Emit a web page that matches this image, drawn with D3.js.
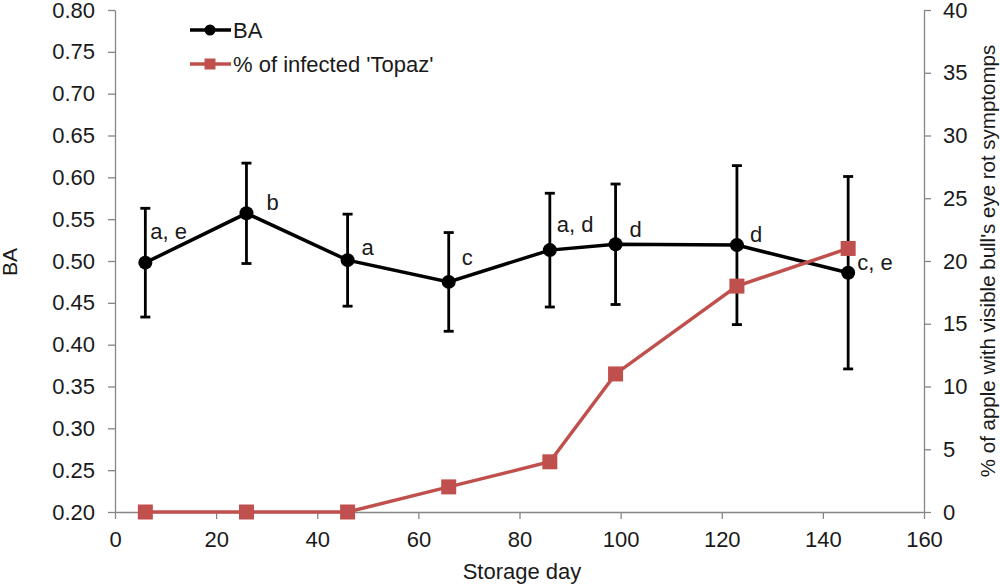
<!DOCTYPE html>
<html>
<head>
<meta charset="utf-8">
<script src="https://cdn.jsdelivr.net/npm/d3@7"></script>
<style>
  body { margin: 0; background: #fff; }
  svg text { font-family: "Liberation Sans", Arial, sans-serif; fill: #1a1a1a; }
</style>
</head>
<body>
<script>

// storage days (x)
var days = [6, 26, 46, 66, 86, 99, 123, 145];
// BA mean and error (left axis)
var ba = [0.498, 0.557, 0.501, 0.475, 0.513, 0.520, 0.519, 0.486];
var baErr = [0.065, 0.060, 0.055, 0.059, 0.068, 0.072, 0.095, 0.115];
var baLetters = ["a, e", "b", "a", "c", "a, d", "d", "d", "c, e"];
// % infected 'Topaz' (right axis)
var infected = [0, 0, 0, 2, 4, 11, 18, 21];

var xTicks = [0, 20, 40, 60, 80, 100, 120, 140, 160];
var baTicks = [0.20, 0.25, 0.30, 0.35, 0.40, 0.45, 0.50, 0.55, 0.60, 0.65, 0.70, 0.75, 0.80];
var pctTicks = [0, 5, 10, 15, 20, 25, 30, 35, 40];

// where each letter label sits relative to its point (Excel placed them by hand)
var letterOffsets = [[5, -24], [20, -3], [14, -5], [13, -17], [7, -18], [14, -7], [13, -3], [9, -3]];

var w = 1000, h = 584;
var plotL = 115, plotR = 924, plotT = 10, plotB = 512;
var red = "#C0504D", axisGrey = "#868686";

var svg = d3.select("body").append("svg")
  .attr("width", w)
  .attr("height", h);

var x = d3.scaleLinear().domain([0, 160]).range([plotL, plotR]);
var yL = d3.scaleLinear().domain([0.2, 0.8]).range([plotB, plotT]);
var yR = d3.scaleLinear().domain([0, 40]).range([plotB, plotT]);

// axes
function styleAxis(g) {
  g.selectAll("path, line").attr("stroke", axisGrey).attr("stroke-width", 1.3);
  g.selectAll("text").style("font-size", "22px").attr("fill", "#1a1a1a");
}

svg.append("g")
  .attr("transform", "translate(0," + plotB + ")")
  .call(d3.axisBottom(x).tickValues(xTicks).tickSize(7).tickPadding(12).tickSizeOuter(0).tickFormat(d3.format("d")))
  .call(styleAxis);

svg.append("g")
  .attr("transform", "translate(" + plotL + ",0)")
  .call(d3.axisLeft(yL).tickValues(baTicks).tickSize(7).tickPadding(13).tickSizeOuter(0).tickFormat(d3.format(".2f")))
  .call(styleAxis);

svg.append("g")
  .attr("transform", "translate(" + plotR + ",0)")
  .call(d3.axisRight(yR).tickValues(pctTicks).tickSize(7).tickPadding(12).tickSizeOuter(0).tickFormat(d3.format("d")))
  .call(styleAxis);

// axis titles
svg.append("text")
  .attr("x", 522)
  .attr("y", 579)
  .attr("text-anchor", "middle")
  .style("font-size", "22px")
  .text("Storage day");

svg.append("text")
  .attr("transform", "translate(17,262) rotate(-90)")
  .attr("text-anchor", "middle")
  .style("font-size", "21px")
  .text("BA");

svg.append("text")
  .attr("transform", "translate(995,261) rotate(-90)")
  .attr("text-anchor", "middle")
  .style("font-size", "20.5px")
  .text("% of apple with visible bull's eye rot symptomps");

// BA series
var idx = d3.range(days.length);

var bars = svg.append("g").attr("stroke", "#000").attr("stroke-width", 2.8);
bars.selectAll(".stem").data(idx).enter().append("line")
  .attr("x1", function(i) { return x(days[i]); })
  .attr("x2", function(i) { return x(days[i]); })
  .attr("y1", function(i) { return yL(ba[i] + baErr[i]); })
  .attr("y2", function(i) { return yL(ba[i] - baErr[i]); });
bars.selectAll(".capT").data(idx).enter().append("line")
  .attr("x1", function(i) { return x(days[i]) - 5; })
  .attr("x2", function(i) { return x(days[i]) + 5; })
  .attr("y1", function(i) { return yL(ba[i] + baErr[i]); })
  .attr("y2", function(i) { return yL(ba[i] + baErr[i]); });
bars.selectAll(".capB").data(idx).enter().append("line")
  .attr("x1", function(i) { return x(days[i]) - 5; })
  .attr("x2", function(i) { return x(days[i]) + 5; })
  .attr("y1", function(i) { return yL(ba[i] - baErr[i]); })
  .attr("y2", function(i) { return yL(ba[i] - baErr[i]); });

var baLine = d3.line()
  .x(function(i) { return x(days[i]); })
  .y(function(i) { return yL(ba[i]); });

svg.append("path")
  .datum(idx)
  .attr("d", baLine)
  .attr("fill", "none")
  .attr("stroke", "#000")
  .attr("stroke-width", 3.5);

svg.selectAll(".baDot").data(idx).enter().append("circle")
  .attr("cx", function(i) { return x(days[i]); })
  .attr("cy", function(i) { return yL(ba[i]); })
  .attr("r", 7)
  .attr("fill", "#000");

svg.selectAll(".letter").data(idx).enter().append("text")
  .attr("x", function(i) { return x(days[i]) + letterOffsets[i][0]; })
  .attr("y", function(i) { return yL(ba[i]) + letterOffsets[i][1]; })
  .style("font-size", "22px")
  .text(function(i) { return baLetters[i]; });

// infected series
var pctLine = d3.line()
  .x(function(i) { return x(days[i]); })
  .y(function(i) { return yR(infected[i]); });

svg.append("path")
  .datum(idx)
  .attr("d", pctLine)
  .attr("fill", "none")
  .attr("stroke", red)
  .attr("stroke-width", 3.5);

svg.selectAll(".sq").data(idx).enter().append("rect")
  .attr("x", function(i) { return x(days[i]) - 7.5; })
  .attr("y", function(i) { return yR(infected[i]) - 7.5; })
  .attr("width", 15)
  .attr("height", 15)
  .attr("fill", red);

// legend
var lg = svg.append("g");
lg.append("line").attr("x1", 190).attr("x2", 231).attr("y1", 30).attr("y2", 30)
  .attr("stroke", "#000").attr("stroke-width", 3.5);
lg.append("circle").attr("cx", 210).attr("cy", 30).attr("r", 5.5).attr("fill", "#000");
lg.append("text").attr("x", 233).attr("y", 38).style("font-size", "22px").text("BA");

lg.append("line").attr("x1", 190).attr("x2", 231).attr("y1", 64).attr("y2", 64)
  .attr("stroke", red).attr("stroke-width", 3.5);
lg.append("rect").attr("x", 204.5).attr("y", 58.5).attr("width", 11).attr("height", 11).attr("fill", red);
lg.append("text").attr("x", 233).attr("y", 72).style("font-size", "22px").text("% of infected 'Topaz'");

</script>
</body>
</html>
